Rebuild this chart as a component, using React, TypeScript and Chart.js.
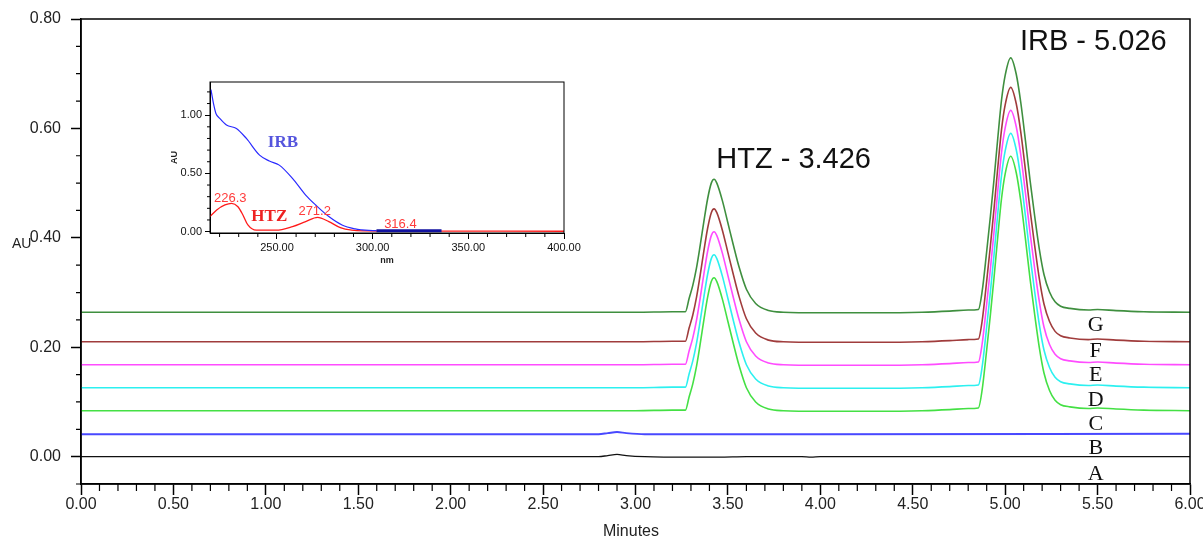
import React, { useEffect, useRef } from 'react';
import { Chart, registerables } from 'chart.js';

Chart.register(...registerables);

// ---------- main chromatogram data ----------
const TIME = [
  0, 0.5, 1.0, 1.5, 2.0, 2.5, 3.0, 3.2,
  3.27, 3.29, 3.31, 3.33, 3.35, 3.37, 3.39, 3.41, 3.425, 3.44, 3.47, 3.5, 3.53, 3.56, 3.6, 3.65, 3.72,
  3.8, 4.0, 4.3, 4.55, 4.7, 4.8,
  4.855, 4.875, 4.9, 4.92, 4.94, 4.96, 4.98, 5.0, 5.03, 5.06, 5.085, 5.11, 5.135, 5.16, 5.185, 5.21, 5.24, 5.27, 5.3, 5.35,
  5.45, 5.5, 5.6, 5.75, 6.0,
];

const SERIES_G = [
  0.264, 0.264, 0.264, 0.264, 0.264, 0.264, 0.264, 0.265,
  0.265, 0.289, 0.313, 0.345, 0.386, 0.43, 0.471, 0.5, 0.507, 0.5, 0.468, 0.427, 0.386, 0.347, 0.306, 0.28, 0.267,
  0.264, 0.263, 0.263, 0.264, 0.266, 0.268,
  0.269, 0.301, 0.375, 0.439, 0.508, 0.582, 0.651, 0.697, 0.729, 0.699, 0.646, 0.577, 0.504, 0.439, 0.379, 0.333, 0.301, 0.283, 0.275, 0.271,
  0.268, 0.269, 0.267, 0.265, 0.264,
];
const SERIES_F = [
  0.21, 0.21, 0.21, 0.21, 0.21, 0.21, 0.21, 0.211,
  0.211, 0.235, 0.259, 0.291, 0.332, 0.376, 0.417, 0.446, 0.453, 0.446, 0.414, 0.373, 0.332, 0.293, 0.252, 0.226, 0.213,
  0.21, 0.209, 0.209, 0.21, 0.212, 0.214,
  0.215, 0.247, 0.321, 0.385, 0.454, 0.528, 0.597, 0.643, 0.675, 0.645, 0.592, 0.523, 0.45, 0.385, 0.325, 0.279, 0.247, 0.229, 0.221, 0.217,
  0.214, 0.215, 0.213, 0.211, 0.21,
];
const SERIES_E = [
  0.168, 0.168, 0.168, 0.168, 0.168, 0.168, 0.168, 0.169,
  0.169, 0.193, 0.217, 0.249, 0.29, 0.334, 0.375, 0.404, 0.411, 0.404, 0.372, 0.331, 0.29, 0.251, 0.21, 0.184, 0.171,
  0.168, 0.167, 0.167, 0.168, 0.17, 0.172,
  0.173, 0.205, 0.279, 0.343, 0.412, 0.486, 0.555, 0.601, 0.633, 0.603, 0.55, 0.481, 0.408, 0.343, 0.283, 0.237, 0.205, 0.187, 0.179, 0.175,
  0.172, 0.173, 0.171, 0.169, 0.168,
];
const SERIES_D = [
  0.126, 0.126, 0.126, 0.126, 0.126, 0.126, 0.126, 0.127,
  0.127, 0.151, 0.175, 0.207, 0.248, 0.292, 0.333, 0.362, 0.369, 0.362, 0.33, 0.289, 0.248, 0.209, 0.168, 0.142, 0.129,
  0.126, 0.125, 0.125, 0.126, 0.128, 0.13,
  0.131, 0.163, 0.237, 0.301, 0.37, 0.444, 0.513, 0.559, 0.591, 0.561, 0.508, 0.439, 0.366, 0.301, 0.241, 0.195, 0.163, 0.145, 0.137, 0.133,
  0.13, 0.131, 0.129, 0.127, 0.126,
];
const SERIES_C = [
  0.084, 0.084, 0.084, 0.084, 0.084, 0.084, 0.084, 0.085,
  0.085, 0.109, 0.133, 0.165, 0.206, 0.25, 0.291, 0.32, 0.327, 0.32, 0.288, 0.247, 0.206, 0.167, 0.126, 0.1, 0.087,
  0.084, 0.083, 0.083, 0.084, 0.086, 0.088,
  0.089, 0.121, 0.195, 0.259, 0.328, 0.402, 0.471, 0.517, 0.549, 0.519, 0.466, 0.397, 0.324, 0.259, 0.199, 0.153, 0.121, 0.103, 0.095, 0.091,
  0.088, 0.089, 0.087, 0.085, 0.084,
];

const TIME_B = [0, 2.8, 2.85, 2.9, 2.95, 3.05, 4.0, 6.0];
const SERIES_B = [0.041, 0.041, 0.043, 0.045, 0.043, 0.041, 0.041, 0.042];

const TIME_A = [0, 2.8, 2.85, 2.9, 2.95, 3.05, 3.3, 3.45, 3.6, 3.9, 3.95, 4.0, 6.0];
const SERIES_A = [0, 0, 0.002, 0.004, 0.002, 0, -0.001, -0.001, 0, 0, -0.001, 0, 0];

const X_TICKS = [0, 0.5, 1.0, 1.5, 2.0, 2.5, 3.0, 3.5, 4.0, 4.5, 5.0, 5.5, 6.0];
const Y_TICKS = [0, 0.2, 0.4, 0.6, 0.8];

const TRACE_LABELS = ['A', 'B', 'C', 'D', 'E', 'F', 'G'];
const PEAK_LABELS = ['HTZ - 3.426', 'IRB - 5.026'];

// ---------- inset UV spectra ----------
const IRB_NM = [215.5, 216.7, 218.1, 220.2, 223.6, 228.8, 234, 240.9, 246, 251.2, 258.1, 265, 270.2, 277.1, 284, 290.9, 294.3, 298, 302, 336];
const IRB_AU = [1.22, 1.11, 1.015, 0.97, 0.915, 0.886, 0.8, 0.657, 0.606, 0.571, 0.457, 0.314, 0.229, 0.129, 0.057, 0.023, 0.015, 0.01, 0.008, 0.008];

const HTZ_NM = [215, 218.5, 222.8, 226.3, 229.6, 232.2, 234.8, 239.2, 249.5, 258.1, 265, 271.2, 277.1, 283.1, 289.1, 296, 320, 400];
const HTZ_AU = [0.129, 0.186, 0.229, 0.243, 0.214, 0.143, 0.057, 0.012, 0.012, 0.043, 0.086, 0.122, 0.086, 0.034, 0.012, 0.006, 0.004, 0.003];

const INSET_X_TICKS = [250, 300, 350, 400];
const INSET_Y_TICKS = [0, 0.5, 1.0];
const INSET_PEAK_LABELS = ['226.3', '271.2', '316.4'];

const SANS = '"Liberation Sans", Arial, sans-serif';
const SERIF = '"Liberation Serif", "Times New Roman", serif';

const pts = (xs: number[], ys: number[]) => xs.map((x, i) => ({ x, y: ys[i] }));

const mainDecor = {
  id: 'mainDecor',
  afterDraw(chart: any) {
    const { ctx, chartArea: a } = chart;
    const x = chart.scales.x;
    const y = chart.scales.y;
    ctx.save();
    ctx.strokeStyle = '#000';
    ctx.lineWidth = 1.5;
    ctx.strokeRect(a.left, a.top, a.right - a.left, a.bottom - a.top);
    // minor ticks
    ctx.lineWidth = 1.2;
    ctx.beginPath();
    for (let i = 1; i < 60; i++) {
      if (i % 5 === 0) continue;
      const px = x.getPixelForValue(i / 10);
      ctx.moveTo(px, a.bottom);
      ctx.lineTo(px, a.bottom + 7);
    }
    for (let i = -1; i < 16; i++) {
      if (i % 4 === 0) continue;
      const py = y.getPixelForValue(i * 0.05);
      ctx.moveTo(a.left, py);
      ctx.lineTo(a.left - 5, py);
    }
    ctx.stroke();

    // peak labels
    ctx.fillStyle = '#111';
    ctx.font = `29px ${SANS}`;
    ctx.textAlign = 'left';
    ctx.textBaseline = 'alphabetic';
    ctx.fillText(PEAK_LABELS[0], x.getPixelForValue(3.426) + 2, y.getPixelForValue(0.528));
    ctx.fillText(PEAK_LABELS[1], x.getPixelForValue(5.08), y.getPixelForValue(0.743));

    // trace letters
    const letterY = [-0.042, 0.004, 0.049, 0.092, 0.1375, 0.183, 0.229];
    ctx.font = `22px ${SERIF}`;
    ctx.textAlign = 'center';
    TRACE_LABELS.forEach((l, i) => {
      ctx.fillText(l, x.getPixelForValue(5.49), y.getPixelForValue(letterY[i]));
    });

    // axis titles
    ctx.fillStyle = '#222';
    ctx.font = `14px ${SANS}`;
    ctx.textAlign = 'left';
    ctx.fillText('AU', 12, 248);
    ctx.font = `16px ${SANS}`;
    ctx.textAlign = 'center';
    ctx.fillText('Minutes', 631, 536);
    ctx.restore();
  },
};

const insetDecor = {
  id: 'insetDecor',
  afterDraw(chart: any) {
    const { ctx, chartArea: a } = chart;
    const x = chart.scales.x;
    const y = chart.scales.y;
    ctx.save();
    ctx.strokeStyle = '#000';
    ctx.lineWidth = 1;
    ctx.strokeRect(a.left, a.top, a.right - a.left, a.bottom - a.top);
    ctx.beginPath();
    for (let nm = 220; nm < 400; nm += 10) {
      if (nm % 50 === 0) continue;
      const px = x.getPixelForValue(nm);
      ctx.moveTo(px, a.bottom);
      ctx.lineTo(px, a.bottom + 4);
    }
    for (let i = 1; i <= 12; i++) {
      if (i % 5 === 0) continue;
      const py = y.getPixelForValue(i / 10);
      ctx.moveTo(a.left, py);
      ctx.lineTo(a.left - 3, py);
    }
    ctx.stroke();

    ctx.textBaseline = 'alphabetic';
    ctx.textAlign = 'left';
    ctx.font = `bold 17px ${SERIF}`;
    ctx.fillStyle = '#5555dd';
    ctx.fillText('IRB', x.getPixelForValue(245.2), y.getPixelForValue(0.728));
    ctx.fillStyle = '#ee2222';
    ctx.fillText('HTZ', x.getPixelForValue(236.6), y.getPixelForValue(0.092));

    ctx.font = `13px ${SANS}`;
    ctx.fillStyle = '#ff3b3b';
    ctx.fillText(INSET_PEAK_LABELS[0], x.getPixelForValue(217.1), y.getPixelForValue(0.257));
    ctx.fillText(INSET_PEAK_LABELS[1], x.getPixelForValue(261.2), y.getPixelForValue(0.143));
    ctx.fillText(INSET_PEAK_LABELS[2], x.getPixelForValue(306), y.getPixelForValue(0.034));

    ctx.fillStyle = '#222';
    ctx.font = `bold 9px ${SANS}`;
    ctx.textAlign = 'center';
    ctx.textBaseline = 'middle';
    ctx.fillText('nm', (a.left + a.right) / 2, a.bottom + 28);
    ctx.translate(a.left - 35, (a.top + a.bottom) / 2);
    ctx.rotate(-Math.PI / 2);
    ctx.fillText('AU', 0, 0);
    ctx.restore();
  },
};

export default function App() {
  const mainRef = useRef<HTMLCanvasElement>(null);
  const insetRef = useRef<HTMLCanvasElement>(null);

  useEffect(() => {
    document.body.style.margin = '0';
    const line = (label: string, data: any[], color: string, width = 1.6) => ({
      label,
      data,
      borderColor: color,
      borderWidth: width,
      pointRadius: 0,
      fill: false,
      cubicInterpolationMode: 'monotone' as const,
    });

    const main = new Chart(mainRef.current as HTMLCanvasElement, {
      type: 'line',
      data: {
        datasets: [
          line('G', pts(TIME, SERIES_G), '#3f8f3f'),
          line('F', pts(TIME, SERIES_F), '#a03c3c'),
          line('E', pts(TIME, SERIES_E), '#ff4cff'),
          line('D', pts(TIME, SERIES_D), '#2cf0f0'),
          line('C', pts(TIME, SERIES_C), '#44e044'),
          line('B', pts(TIME_B, SERIES_B), '#4848ff', 2),
          line('A', pts(TIME_A, SERIES_A), '#111111', 1.3),
        ],
      },
      options: {
        responsive: false,
        animation: false,
        layout: { padding: { left: 0, top: 19, right: 13, bottom: 0 } },
        plugins: { legend: { display: false }, tooltip: { enabled: false } },
        scales: {
          x: {
            type: 'linear',
            min: 0,
            max: 6,
            afterBuildTicks: (s: any) => { s.ticks = X_TICKS.map((v) => ({ value: v })); },
            afterFit: (s: any) => { s.height = 54; s.paddingLeft = 0; s.paddingRight = 0; },
            ticks: {
              callback: (v: any) => Number(v).toFixed(2),
              font: { family: SANS, size: 16 },
              color: '#222',
              maxRotation: 0,
              autoSkip: false,
              padding: 0,
            },
            grid: { drawOnChartArea: false, drawTicks: true, tickLength: 11, tickColor: '#000', tickWidth: 1.5 },
            border: { display: true, color: '#000', width: 1.5 },
          },
          y: {
            type: 'linear',
            min: -0.05,
            max: 0.8,
            afterBuildTicks: (s: any) => { s.ticks = Y_TICKS.map((v) => ({ value: v })); },
            afterFit: (s: any) => { s.width = 81; s.paddingTop = 0; s.paddingBottom = 0; },
            ticks: {
              callback: (v: any) => Number(v).toFixed(2),
              font: { family: SANS, size: 16 },
              color: '#222',
              padding: 10,
            },
            grid: { drawOnChartArea: false, drawTicks: true, tickLength: 10, tickColor: '#000', tickWidth: 1.5 },
            border: { display: true, color: '#000', width: 1.5 },
          },
        },
      },
      plugins: [mainDecor],
    });

    const inset = new Chart(insetRef.current as HTMLCanvasElement, {
      type: 'line',
      data: {
        datasets: [
          {
            label: 'IRB',
            data: pts(IRB_NM, IRB_AU),
            borderColor: '#2a2aff',
            borderWidth: 1.2,
            pointRadius: 0,
            fill: false,
            cubicInterpolationMode: 'monotone',
            segment: {
              borderWidth: (c: any) => (c.p0.parsed.x >= 301 ? 3 : 1.2),
              borderColor: (c: any) => (c.p0.parsed.x >= 301 ? '#1212a0' : '#2a2aff'),
            },
          } as any,
          {
            label: 'HTZ',
            data: pts(HTZ_NM, HTZ_AU),
            borderColor: '#ff1a1a',
            borderWidth: 1.3,
            pointRadius: 0,
            fill: false,
            cubicInterpolationMode: 'monotone',
          },
        ],
      },
      options: {
        responsive: false,
        animation: false,
        layout: { padding: { left: 0, top: 10, right: 36, bottom: 0 } },
        plugins: { legend: { display: false }, tooltip: { enabled: false } },
        scales: {
          x: {
            type: 'linear',
            min: 215,
            max: 400,
            afterBuildTicks: (s: any) => { s.ticks = INSET_X_TICKS.map((v) => ({ value: v })); },
            afterFit: (s: any) => { s.height = 39; s.paddingLeft = 0; s.paddingRight = 0; },
            ticks: {
              callback: (v: any) => Number(v).toFixed(2),
              font: { family: SANS, size: 11 },
              color: '#111',
              maxRotation: 0,
              autoSkip: false,
              padding: 2,
            },
            grid: { drawOnChartArea: false, drawTicks: true, tickLength: 6, tickColor: '#000', tickWidth: 1 },
            border: { display: true, color: '#000', width: 1 },
          },
          y: {
            type: 'linear',
            min: -0.012,
            max: 1.285,
            afterBuildTicks: (s: any) => { s.ticks = INSET_Y_TICKS.map((v) => ({ value: v })); },
            afterFit: (s: any) => { s.width = 50; s.paddingTop = 0; s.paddingBottom = 0; },
            ticks: {
              callback: (v: any) => Number(v).toFixed(2),
              font: { family: SANS, size: 11 },
              color: '#111',
              padding: 3,
            },
            grid: { drawOnChartArea: false, drawTicks: true, tickLength: 5, tickColor: '#000', tickWidth: 1 },
            border: { display: true, color: '#000', width: 1 },
          },
        },
      },
      plugins: [insetDecor],
    });

    return () => {
      main.destroy();
      inset.destroy();
    };
  }, []);

  return (
    <div style={{ position: 'relative', width: 1203, height: 538, background: '#fff' }}>
      <canvas ref={mainRef} width={1203} height={538} style={{ position: 'absolute', left: 0, top: 0 }} />
      <canvas ref={insetRef} width={440} height={200} style={{ position: 'absolute', left: 160, top: 72 }} />
    </div>
  );
}
